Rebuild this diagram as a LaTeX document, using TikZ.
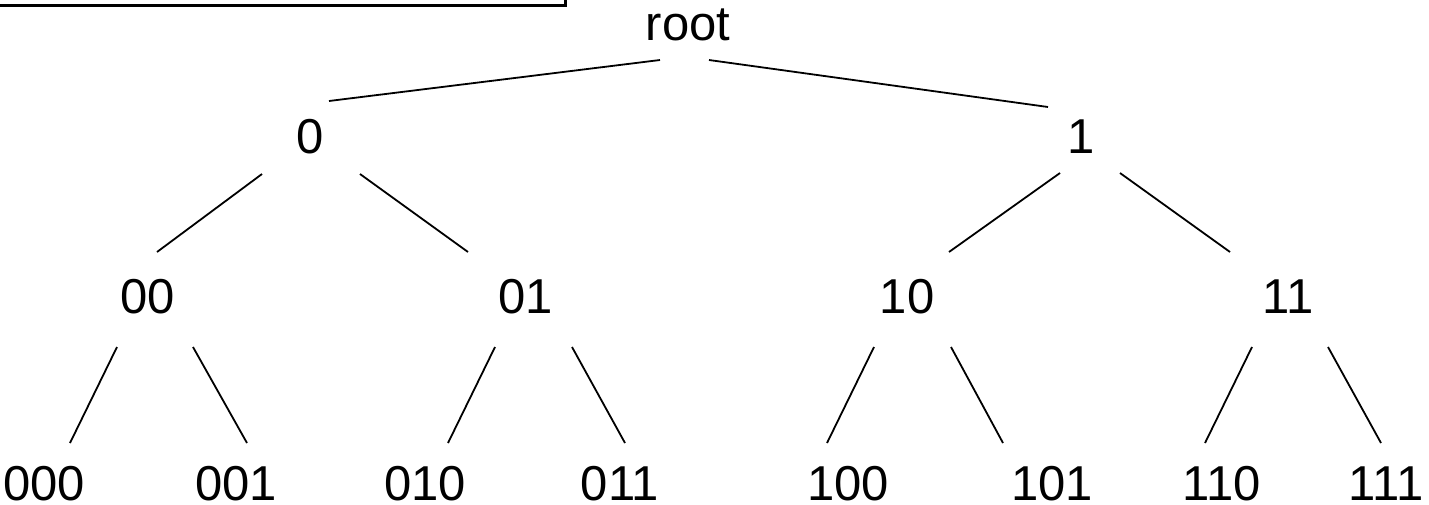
\documentclass[tikz,border=0pt]{standalone}
\usepackage{fontspec}
\setmainfont{Liberation Sans}
\begin{document}
\begin{tikzpicture}[x=1pt,y=-1pt,
  lbl/.style={inner sep=0pt,anchor=base,font=\fontsize{49}{57}\selectfont},
  branch/.style={line width=1.8pt,black}]
\useasboundingbox (0,0) rectangle (1429,504);

% frame corner in the top-left
\draw[line width=3pt] (-2,5.5) -- (565,5.5) -- (565,-2);

% labels
\node[lbl] (root) at (688,40) {root};
\node[lbl] (n0) at (310,153) {0};
\node[lbl] (n1) at (1081,153) {1};
\node[lbl] (n00) at (148,313) {00};
\node[lbl] (n01) at (526,313) {01};
\node[lbl] (n10) at (907,313) {10};
\node[lbl] (n11) at (1288,313) {11};
\node[lbl] (n000) at (44,500) {000};
\node[lbl] (n001) at (236,500) {001};
\node[lbl] (n010) at (425,500) {010};
\node[lbl] (n011) at (620,500) {011};
\node[lbl] (n100) at (848,500) {100};
\node[lbl] (n101) at (1052,500) {101};
\node[lbl] (n110) at (1222,500) {110};
\node[lbl] (n111) at (1386,500) {111};

% branch end points
\coordinate (root-l) at (660,60);
\coordinate (root-r) at (709,60);
\coordinate (n0-t) at (329,101);
\coordinate (n1-t) at (1048,107);
\coordinate (n0-l) at (262,174);
\coordinate (n0-r) at (360,174);
\coordinate (n1-l) at (1060,173);
\coordinate (n1-r) at (1120,173);
\coordinate (n00-t) at (157,252);
\coordinate (n01-t) at (468,252);
\coordinate (n10-t) at (949,252);
\coordinate (n11-t) at (1230,252);
\coordinate (n00-l) at (117,347);
\coordinate (n00-r) at (193,347);
\coordinate (n01-l) at (495,347);
\coordinate (n01-r) at (572,347);
\coordinate (n10-l) at (874,347);
\coordinate (n10-r) at (951,347);
\coordinate (n11-l) at (1252,347);
\coordinate (n11-r) at (1328,347);
\coordinate (n000-t) at (70,443);
\coordinate (n001-t) at (247,443);
\coordinate (n010-t) at (448,443);
\coordinate (n011-t) at (625,443);
\coordinate (n100-t) at (827,443);
\coordinate (n101-t) at (1003,443);
\coordinate (n110-t) at (1205,443);
\coordinate (n111-t) at (1381,443);

% branches
\draw[branch] (root-l) -- (n0-t);
\draw[branch] (root-r) -- (n1-t);
\draw[branch] (n0-l) -- (n00-t);
\draw[branch] (n0-r) -- (n01-t);
\draw[branch] (n1-l) -- (n10-t);
\draw[branch] (n1-r) -- (n11-t);
\draw[branch] (n00-l) -- (n000-t);
\draw[branch] (n00-r) -- (n001-t);
\draw[branch] (n01-l) -- (n010-t);
\draw[branch] (n01-r) -- (n011-t);
\draw[branch] (n10-l) -- (n100-t);
\draw[branch] (n10-r) -- (n101-t);
\draw[branch] (n11-l) -- (n110-t);
\draw[branch] (n11-r) -- (n111-t);
\end{tikzpicture}
\end{document}
